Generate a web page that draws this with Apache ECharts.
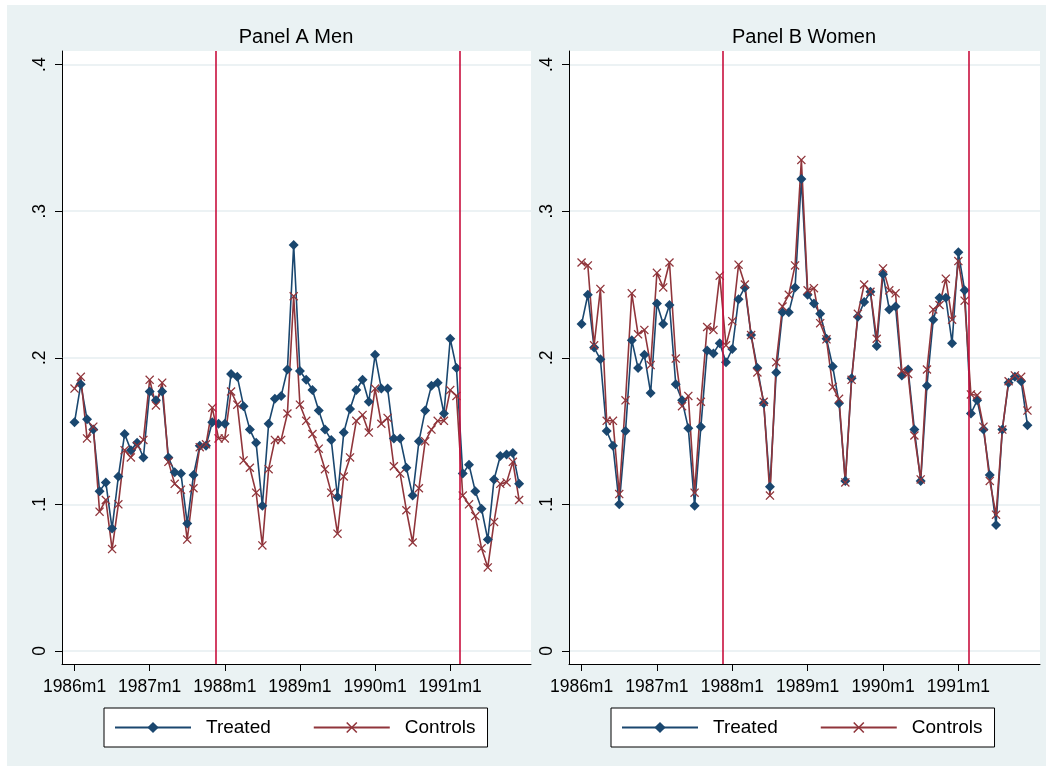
<!DOCTYPE html>
<html>
<head>
    <meta charset="utf-8">
    <title>Panel A Men / Panel B Women</title>
    <script src="https://cdn.jsdelivr.net/npm/echarts@6/dist/echarts.min.js"></script>
    <style>
        body { margin: 0; background: #fff; }
    </style>
</head>
<body>
    <div id="main" style="width:1046px;height:766px;"></div>
    <script type="text/javascript">
        // month index 0 = 1986m1 ... 71 = 1991m12
        const xTickValues = [0, 12, 24, 36, 48, 60];
        const xTickLabels = ['1986m1', '1987m1', '1988m1', '1989m1', '1990m1', '1991m1'];
        const yTickValues = [0, 0.1, 0.2, 0.3, 0.4];
        const yTickLabels = ['0', '.1', '.2', '.3', '.4'];
        const policyLines = [22.5, 61.6];

        const menTreated = [
            0.156, 0.182, 0.158, 0.151, 0.109, 0.115, 0.0835, 0.119, 0.148, 0.137, 0.142, 0.132,
            0.177, 0.171, 0.177, 0.132, 0.122, 0.121, 0.087, 0.120, 0.140, 0.140, 0.156, 0.155,
            0.155, 0.189, 0.187, 0.167, 0.151, 0.142, 0.099, 0.155, 0.172, 0.174, 0.192, 0.277,
            0.191, 0.185, 0.178, 0.164, 0.151, 0.144, 0.105, 0.149, 0.165, 0.178, 0.185, 0.170,
            0.202, 0.179, 0.179, 0.145, 0.145, 0.125, 0.106, 0.143, 0.164, 0.181, 0.183, 0.162,
            0.213, 0.193, 0.121, 0.127, 0.109, 0.097, 0.076, 0.117, 0.133, 0.134, 0.135, 0.114
        ];
        const menControls = [
            0.179, 0.187, 0.145, 0.153, 0.095, 0.103, 0.0695, 0.100, 0.137, 0.132, 0.140, 0.144,
            0.185, 0.1675, 0.183, 0.129, 0.114, 0.110, 0.076, 0.111, 0.139, 0.141, 0.166, 0.145,
            0.145, 0.177, 0.168, 0.130, 0.125, 0.108, 0.072, 0.124, 0.144, 0.144, 0.162, 0.242,
            0.168, 0.157, 0.148, 0.138, 0.124, 0.108, 0.080, 0.119, 0.132, 0.157, 0.161, 0.149,
            0.179, 0.155, 0.159, 0.126, 0.121, 0.096, 0.074, 0.111, 0.143, 0.151, 0.157, 0.157,
            0.178, 0.174, 0.106, 0.100, 0.092, 0.070, 0.057, 0.088, 0.114, 0.115, 0.129, 0.103
        ];
        const womenTreated = [
            0.223, 0.243, 0.207, 0.199, 0.150, 0.140, 0.100, 0.150, 0.212, 0.193, 0.202, 0.176,
            0.237, 0.223, 0.236, 0.182, 0.171, 0.152, 0.099, 0.153, 0.205, 0.203, 0.210, 0.197,
            0.206, 0.240, 0.248, 0.2155, 0.193, 0.169, 0.112, 0.190, 0.231, 0.231, 0.248, 0.322,
            0.243, 0.237, 0.230, 0.213, 0.194, 0.169, 0.116, 0.186, 0.228, 0.238, 0.245, 0.208,
            0.257, 0.233, 0.235, 0.188, 0.192, 0.151, 0.116, 0.181, 0.226, 0.241, 0.241, 0.210,
            0.272, 0.246, 0.162, 0.171, 0.151, 0.120, 0.086, 0.151, 0.183, 0.187, 0.184, 0.154
        ];
        const womenControls = [
            0.265, 0.263, 0.2085, 0.247, 0.157, 0.157, 0.107, 0.171, 0.244, 0.216, 0.219, 0.195,
            0.258, 0.248, 0.265, 0.1995, 0.167, 0.174, 0.108, 0.170, 0.221, 0.219, 0.256, 0.2085,
            0.225, 0.2635, 0.250, 0.2155, 0.190, 0.170, 0.106, 0.197, 0.235, 0.243, 0.263, 0.335,
            0.246, 0.2475, 0.2236, 0.2126, 0.180, 0.172, 0.115, 0.185, 0.230, 0.250, 0.245, 0.213,
            0.261, 0.246, 0.244, 0.191, 0.189, 0.147, 0.117, 0.192, 0.233, 0.236, 0.254, 0.226,
            0.266, 0.239, 0.175, 0.1745, 0.153, 0.116, 0.093, 0.151, 0.184, 0.188, 0.187, 0.164
        ];

        const FONT = "'Liberation Sans', Arial, sans-serif";
        const NAVY = '#1A476F';
        const MAROON = '#90353B';
        const XLINE = '#C8103E';
        const GRIDLINE = '#E6EEF0';
        // filled "x" marker (ECharts has no built-in cross)
        const CROSS = 'path://M1,0L5,4L9,0L10,1L6,5L10,9L9,10L5,6L1,10L0,9L4,5L0,1Z';

        const toPairs = arr => arr.map((v, i) => [i, v]);

        function makeX(gridIndex, min, max) {
            return {
                type: 'value', gridIndex: gridIndex, min: min, max: max,
                axisLine: { show: true, onZero: false, lineStyle: { color: '#000', width: 1 } },
                axisTick: { show: true, customValues: xTickValues, length: 7, lineStyle: { color: '#000' } },
                axisLabel: {
                    customValues: xTickValues, margin: 14, color: '#000', fontSize: 17.5, fontFamily: FONT,
                    formatter: v => xTickLabels[xTickValues.indexOf(v)] || ''
                },
                splitLine: { show: false }
            };
        }
        function makeY(gridIndex) {
            return {
                type: 'value', gridIndex: gridIndex, min: -0.0089, max: 0.4093,
                axisLine: { show: true, onZero: false, lineStyle: { color: '#000', width: 1 } },
                axisTick: { show: true, customValues: yTickValues, length: 7, lineStyle: { color: '#000' } },
                axisLabel: {
                    customValues: yTickValues, rotate: 90, margin: 13, color: '#000', fontSize: 17.5, fontFamily: FONT,
                    formatter: v => yTickLabels[yTickValues.findIndex(t => Math.abs(t - v) < 1e-9)] || ''
                },
                splitLine: { show: true, customValues: yTickValues, lineStyle: { color: GRIDLINE, width: 1.5 } }
            };
        }
        function makeSeries(idx, treated, controls) {
            return [
                {
                    name: 'Treated', type: 'line', xAxisIndex: idx, yAxisIndex: idx,
                    data: toPairs(treated),
                    symbol: 'diamond', symbolSize: 10,
                    lineStyle: { color: NAVY, width: 1.6 },
                    itemStyle: { color: NAVY },
                    markLine: {
                        silent: true, symbol: ['none', 'none'], label: { show: false },
                        lineStyle: { color: XLINE, width: 1.6, type: 'solid' },
                        data: policyLines.map(x => ({ xAxis: x }))
                    }
                },
                {
                    name: 'Controls', type: 'line', xAxisIndex: idx, yAxisIndex: idx,
                    data: toPairs(controls),
                    symbol: CROSS, symbolSize: 9,
                    lineStyle: { color: MAROON, width: 1.6 },
                    itemStyle: { color: MAROON }
                }
            ];
        }
        function makeLegend(left) {
            return {
                left: left, top: 708, orient: 'horizontal',
                data: ['Treated', 'Controls'],
                itemWidth: 76, itemHeight: 14, itemGap: 42,
                padding: [10, 12, 10, 10],
                backgroundColor: '#fff', borderColor: '#000', borderWidth: 1, borderRadius: 0,
                textStyle: { color: '#000', fontSize: 19, fontFamily: FONT, padding: [0, 0, 0, 10] },
                selectedMode: false
            };
        }

        var myChart = echarts.init(document.getElementById('main'));
        var option = {
            animation: false,
            backgroundColor: '#EAF2F3',
            grid: [
                { left: 62, top: 51, width: 469, height: 613, show: true, backgroundColor: '#fff', borderWidth: 0 },
                { left: 569, top: 51, width: 471, height: 613, show: true, backgroundColor: '#fff', borderWidth: 0 }
            ],
            xAxis: [makeX(0, -2, 72.9), makeX(1, -2, 73.0)],
            yAxis: [makeY(0), makeY(1)],
            legend: [makeLegend(104), makeLegend(611)],
            graphic: [
                { type: 'rect', silent: true, shape: { x: 0, y: 0, width: 1046, height: 5 }, style: { fill: '#fff' } },
                { type: 'rect', silent: true, shape: { x: 0, y: 0, width: 7, height: 766 }, style: { fill: '#fff' } },
                { type: 'text', x: 296, y: 37, style: { text: 'Panel A Men', textAlign: 'center', textVerticalAlign: 'middle', verticalAlign: 'middle', fontSize: 20, fontFamily: FONT, fill: '#000' } },
                { type: 'text', x: 804, y: 37, style: { text: 'Panel B Women', textAlign: 'center', textVerticalAlign: 'middle', verticalAlign: 'middle', fontSize: 20, fontFamily: FONT, fill: '#000' } }
            ],
            series: makeSeries(0, menTreated, menControls).concat(makeSeries(1, womenTreated, womenControls))
        };
        myChart.setOption(option);
    </script>
</body>
</html>
